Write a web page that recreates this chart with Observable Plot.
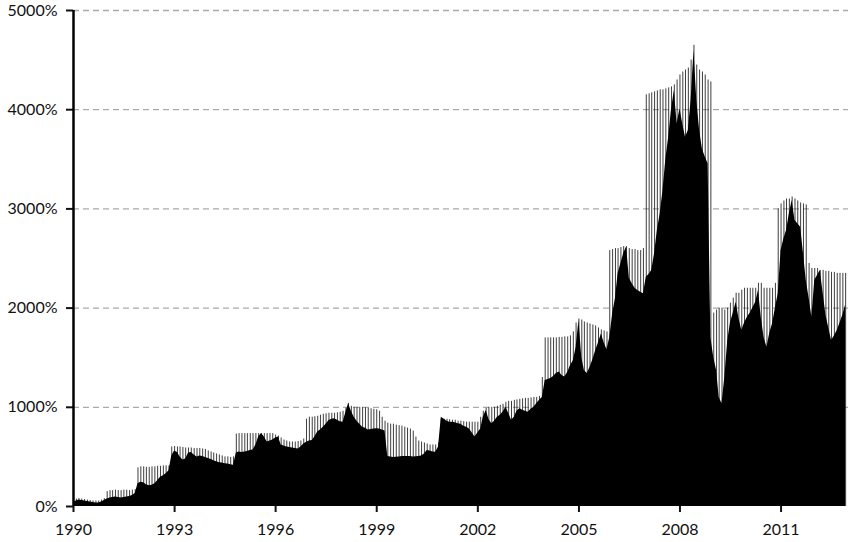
<!DOCTYPE html>
<html>
<head>
<meta charset="utf-8">
<script src="https://cdn.jsdelivr.net/npm/d3@7"></script>
<script src="https://cdn.jsdelivr.net/npm/@observablehq/plot@0.6"></script>
<style>
  html, body { margin: 0; padding: 0; background: #fff; }
  #chart svg { display: block; }
</style>
</head>
<body>
<div id="chart"></div>
<script>
// Monthly series, Jan 1990 .. Dec 2012 (one row per year, Jan..Dec)
const startYear = 1990;

// solid body of the chart (%)
const bodyValues = [
  /*1990*/ 40, 55, 65, 60, 55, 50, 45, 40, 35, 35, 45, 60,
  /*1991*/ 75, 85, 90, 95, 90, 85, 90, 95, 100, 110, 130, 230,
  /*1992*/ 245, 240, 220, 210, 215, 230, 260, 295, 310, 330, 360, 510,
  /*1993*/ 560, 545, 500, 470, 480, 540, 545, 520, 500, 510, 505, 495,
  /*1994*/ 485, 475, 460, 450, 440, 438, 432, 428, 420, 415, 540, 550,
  /*1995*/ 545, 550, 555, 565, 570, 620, 700, 735, 700, 650, 660, 670,
  /*1996*/ 690, 700, 620, 610, 600, 595, 590, 585, 580, 600, 630, 648,
  /*1997*/ 660, 665, 700, 750, 770, 800, 830, 867, 880, 885, 870, 855,
  /*1998*/ 850, 950, 1035, 960, 900, 860, 830, 800, 790, 770, 775, 780,
  /*1999*/ 783, 780, 770, 760, 505, 500, 495, 497, 500, 505, 505, 505,
  /*2000*/ 505, 500, 502, 505, 510, 530, 565, 560, 550, 547, 600, 900,
  /*2001*/ 880, 860, 850, 850, 845, 835, 830, 810, 800, 780, 740, 700,
  /*2002*/ 740, 780, 900, 968, 880, 833, 860, 900, 920, 950, 1000, 940,
  /*2003*/ 870, 900, 960, 985, 970, 960, 950, 980, 1000, 1035, 1070, 1100,
  /*2004*/ 1270, 1280, 1290, 1310, 1340, 1355, 1320, 1305, 1350, 1420, 1470, 1600,
  /*2005*/ 1875, 1500, 1370, 1340, 1400, 1480, 1570, 1650, 1740, 1650, 1580, 1700,
  /*2006*/ 1940, 2100, 2345, 2450, 2550, 2615, 2300, 2245, 2200, 2177, 2160, 2145,
  /*2007*/ 2312, 2340, 2380, 2550, 2782, 2950, 3185, 3500, 3723, 4000, 4193, 3858,
  /*2008*/ 4010, 3850, 3723, 3790, 4100, 4600, 4100, 3790, 3600, 3522, 3455, 1700,
  /*2009*/ 1505, 1370, 1100, 1035, 1300, 1660, 1850, 1950, 2060, 1900, 1774, 1850,
  /*2010*/ 1908, 1950, 2000, 2060, 2177, 1900, 1700, 1606, 1750, 1841, 2000, 2144,
  /*2011*/ 2580, 2700, 2782, 2950, 3085, 2883, 2850, 2816, 2550, 2278, 2100, 1908,
  /*2012*/ 2278, 2330, 2379, 2150, 1930, 1800, 1673, 1720, 1774, 1850, 1930, 2030
];

// thin monthly spikes reaching above the body (%)
const spikeValues = [
  /*1990*/ 70, 75, 80, 75, 70, 65, 60, 55, 55, 55, 65, 80,
  /*1991*/ 150, 160, 160, 165, 160, 160, 165, 165, 160, 165, 170, 390,
  /*1992*/ 400, 400, 395, 395, 400, 400, 405, 405, 410, 410, 410, 600,
  /*1993*/ 605, 600, 600, 595, 590, 590, 590, 585, 585, 585, 580, 575,
  /*1994*/ 560, 550, 540, 530, 520, 510, 500, 500, 495, 500, 730, 735,
  /*1995*/ 735, 735, 735, 735, 735, 735, 735, 735, 735, 735, 735, 735,
  /*1996*/ 720, 710, 690, 670, 660, 650, 650, 650, 655, 660, 680, 880,
  /*1997*/ 900, 900, 905, 910, 920, 930, 935, 940, 940, 940, 945, 950,
  /*1998*/ 960, 990, 1040, 1010, 1000, 1000, 1000, 1000, 995, 990, 985, 980,
  /*1999*/ 975, 960, 900, 860, 840, 830, 830, 820, 815, 810, 800, 790,
  /*2000*/ 780, 760, 700, 660, 650, 640, 630, 620, 620, 620, 640, 880,
  /*2001*/ 880, 880, 875, 870, 870, 860, 860, 855, 850, 850, 850, 850,
  /*2002*/ 850, 900, 960, 990, 1000, 1000, 1000, 1010, 1020, 1030, 1050, 1060,
  /*2003*/ 1060, 1070, 1075, 1080, 1085, 1090, 1090, 1095, 1100, 1100, 1110, 1300,
  /*2004*/ 1700, 1700, 1700, 1700, 1700, 1705, 1705, 1710, 1710, 1720, 1760, 1850,
  /*2005*/ 1890, 1880, 1860, 1850, 1840, 1830, 1820, 1800, 1780, 1770, 1760, 2580,
  /*2006*/ 2590, 2600, 2600, 2610, 2620, 2620, 2600, 2590, 2590, 2580, 2580, 2600,
  /*2007*/ 4150, 4160, 4170, 4180, 4190, 4200, 4200, 4210, 4220, 4230, 4250, 4300,
  /*2008*/ 4350, 4380, 4400, 4420, 4500, 4650, 4450, 4400, 4380, 4350, 4300, 4280,
  /*2009*/ 1950, 1980, 2000, 2000, 1980, 2000, 2050, 2100, 2150, 2150, 2180, 2200,
  /*2010*/ 2200, 2200, 2200, 2200, 2250, 2250, 2200, 2200, 2200, 2200, 2250, 3000,
  /*2011*/ 3050, 3080, 3100, 3100, 3120, 3100, 3080, 3060, 3050, 3040, 2450, 2400,
  /*2012*/ 2400, 2400, 2380, 2380, 2370, 2370, 2360, 2360, 2350, 2350, 2350, 2350
];

const yTicks = [0, 1000, 2000, 3000, 4000, 5000];
const gridValues = [1000, 2000, 3000, 4000, 5000];
const xTickYears = [1990, 1993, 1996, 1999, 2002, 2005, 2008, 2011];
const xDomainYears = [1990, 2013];

const data = bodyValues.map((v, i) => ({
  date: new Date(Date.UTC(startYear, i, 1)),
  body: v,
  spike: spikeValues[i]
}));
const xTicks = xTickYears.map(y => new Date(Date.UTC(y, 0, 1)));
const xDomain = xDomainYears.map(y => new Date(Date.UTC(y, 0, 1)));

const chart = Plot.plot({
  width: 848,
  height: 542,
  marginLeft: 73,
  marginRight: 0,
  marginTop: 10,
  marginBottom: 36,
  style: { fontFamily: "Lato, 'Noto Sans', sans-serif", fontSize: "16px", color: "#111", background: "#fff" },
  x: { type: "utc", domain: xDomain },
  y: { domain: [0, 5000] },
  marks: [
    Plot.ruleY(gridValues, { stroke: "#aaa", strokeWidth: 1.3, strokeDasharray: "6,4" }),
    Plot.ruleX(data, { x: "date", y1: 0, y2: "spike", stroke: "#000", strokeWidth: 0.9, strokeOpacity: 0.85 }),
    Plot.areaY(data, { x: "date", y: "body", fill: "#000" }),
    Plot.axisY({ ticks: yTicks, tickFormat: d => d + "%", tickSize: 7, strokeWidth: 2, tickPadding: 9, fontSize: 16, label: null }),
    Plot.axisX({ ticks: xTicks, tickFormat: d => String(d.getUTCFullYear()), tickSize: 6, strokeWidth: 2, tickPadding: 11, fontSize: 16, label: null }),
    Plot.ruleX([xDomain[0]], { stroke: "#000", strokeWidth: 2.5 })
  ]
});
document.getElementById("chart").appendChild(chart);
</script>
</body>
</html>
